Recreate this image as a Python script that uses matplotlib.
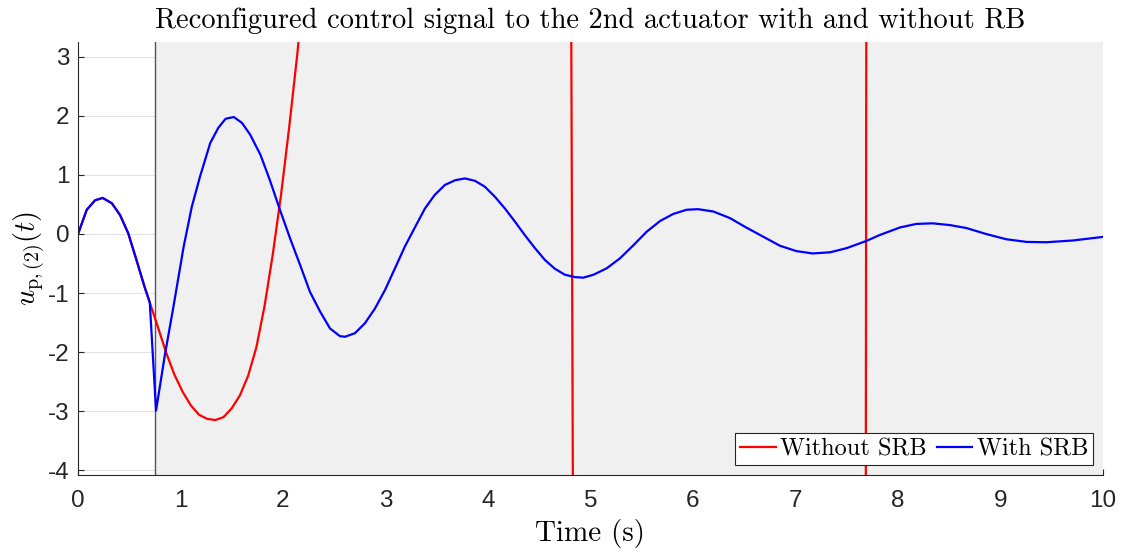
import matplotlib
matplotlib.use("Agg")
import matplotlib.pyplot as plt
import numpy as np

plt.rcParams['axes.unicode_minus'] = False
plt.rcParams['mathtext.fontset'] = 'cm'

# Shared segment before the switch (both signals identical)
t_pre = [0.00, 0.085, 0.166, 0.24, 0.33, 0.41, 0.49, 0.57, 0.65, 0.70]
u_pre = [0.00, 0.41, 0.57, 0.61, 0.52, 0.32, 0.01, -0.44, -0.90, -1.16]

# Without SRB (diverging)
t_red = [0.78, 0.86, 0.94, 1.02, 1.10, 1.18, 1.26, 1.34, 1.42, 1.50, 1.58, 1.66,
         1.74, 1.82, 1.90, 1.98, 2.06, 2.14, 2.22, 2.40, 2.70, 3.00, 3.50, 4.00,
         4.40, 4.60, 4.80, 4.90, 5.20, 5.80, 6.50, 7.00, 7.40, 7.60, 7.70, 8.00,
         9.00, 10.00]
u_red = [-1.58, -2.01, -2.38, -2.67, -2.90, -3.06, -3.13, -3.15, -3.10, -2.95, -2.73, -2.40,
         -1.92, -1.22, -0.35, 0.65, 1.80, 3.05, 4.5, 9.0, 20.0, 40.0, 80.0, 110.0,
         90.0, 55.0, 9.8, -39.0, -200.0, -450.0, -500.0, -380.0, -220.0, -150.0, 16.7, 500.0,
         1500.0, 2000.0]

# With SRB (damped)
t_blue = [0.761, 0.849, 0.93, 1.03, 1.11, 1.19, 1.29, 1.37, 1.44, 1.52, 1.60, 1.68,
          1.78, 1.87, 1.97, 2.068, 2.166, 2.263, 2.361, 2.459, 2.556, 2.605, 2.702, 2.80,
          2.898, 2.995, 3.093, 3.19, 3.29, 3.385, 3.48, 3.58, 3.68, 3.776, 3.873, 3.97,
          4.068, 4.166, 4.263, 4.36, 4.459, 4.556, 4.654, 4.751, 4.849, 4.93, 5.03, 5.16,
          5.29, 5.42, 5.55, 5.68, 5.81, 5.94, 6.05, 6.20, 6.36, 6.52, 6.69, 6.85,
          7.01, 7.17, 7.34, 7.50, 7.69, 7.82, 8.02, 8.18, 8.34, 8.51, 8.67, 8.86,
          9.06, 9.26, 9.45, 9.71, 10.00]
u_blue = [-2.99, -2.03, -1.24, -0.22, 0.46, 0.97, 1.54, 1.80, 1.95, 1.98, 1.88, 1.68,
          1.34, 0.92, 0.41, -0.07, -0.52, -0.98, -1.31, -1.60, -1.73, -1.74, -1.68, -1.51,
          -1.26, -0.95, -0.58, -0.21, 0.12, 0.43, 0.66, 0.83, 0.91, 0.94, 0.90, 0.80,
          0.63, 0.43, 0.21, -0.02, -0.24, -0.44, -0.59, -0.69, -0.73, -0.74, -0.69, -0.58,
          -0.41, -0.19, 0.04, 0.22, 0.34, 0.41, 0.42, 0.38, 0.27, 0.11, -0.05, -0.20,
          -0.29, -0.33, -0.31, -0.24, -0.12, -0.02, 0.11, 0.17, 0.18, 0.15, 0.10, 0.00,
          -0.09, -0.135, -0.14, -0.11, -0.05]

t_switch = 0.75
x_ticks = list(range(0, 11))
y_ticks = [-4, -3, -2, -1, 0, 1, 2, 3]

fig = plt.figure(figsize=(11.23, 5.56), dpi=100)
ax = fig.add_axes([0.0695, 0.1457, 0.9125, 0.7788])

ax.set_axisbelow(True)
ax.grid(axis='y', color='#e3e3e3', linewidth=0.8)
ax.axvspan(t_switch, 10, color='#f0f0f0', zorder=0.8, linewidth=0)
ax.axvline(t_switch, color='#555555', linewidth=1.0, zorder=1.5)

tr = np.concatenate([t_pre, t_red])
ur = np.concatenate([u_pre, u_red])
tb = np.concatenate([t_pre, t_blue])
ub = np.concatenate([u_pre, u_blue])
ax.plot(tr, ur, color='#ff0000', linewidth=1.6, label='Without SRB', zorder=3)
ax.plot(tb, ub, color='#0000ff', linewidth=1.6, label='With SRB', zorder=4)

ax.set_xlim(0, 10)
ax.set_ylim(-4.08, 3.25)
ax.set_xticks(x_ticks)
ax.set_yticks(y_ticks)
ax.tick_params(direction='in', length=4, width=0.8, colors='#262626', labelsize=17.5,
               top=False, right=False)
for lab in ax.get_xticklabels() + ax.get_yticklabels():
    lab.set_fontfamily('Liberation Sans')
ax.tick_params(axis='x', pad=11)
ax.tick_params(axis='y', pad=6)
for s in ['top', 'right']:
    ax.spines[s].set_visible(False)
for s in ['left', 'bottom']:
    ax.spines[s].set_color('#262626')
    ax.spines[s].set_linewidth(0.8)
    ax.spines[s].set_zorder(5)

ax.set_title('Reconfigured control signal to the 2nd actuator with and without RB',
             fontfamily='cmr10', fontsize=20.5, pad=10)
ax.set_xlabel('Time (s)', fontfamily='cmr10', fontsize=21, labelpad=5)
ax.set_ylabel(r'$u_{\mathrm{p},(2)}(t)$', fontsize=20.5, labelpad=0)

leg = ax.legend(loc='lower right', ncol=2, prop={'family': 'cmr10', 'size': 17.5},
                frameon=True, fancybox=False, edgecolor='#262626', framealpha=1,
                handlelength=1.45, handletextpad=0.2, columnspacing=0.4,
                borderpad=0.2, borderaxespad=0.4)
leg.get_frame().set_linewidth(0.8)

fig.savefig('out.png', dpi=100)
